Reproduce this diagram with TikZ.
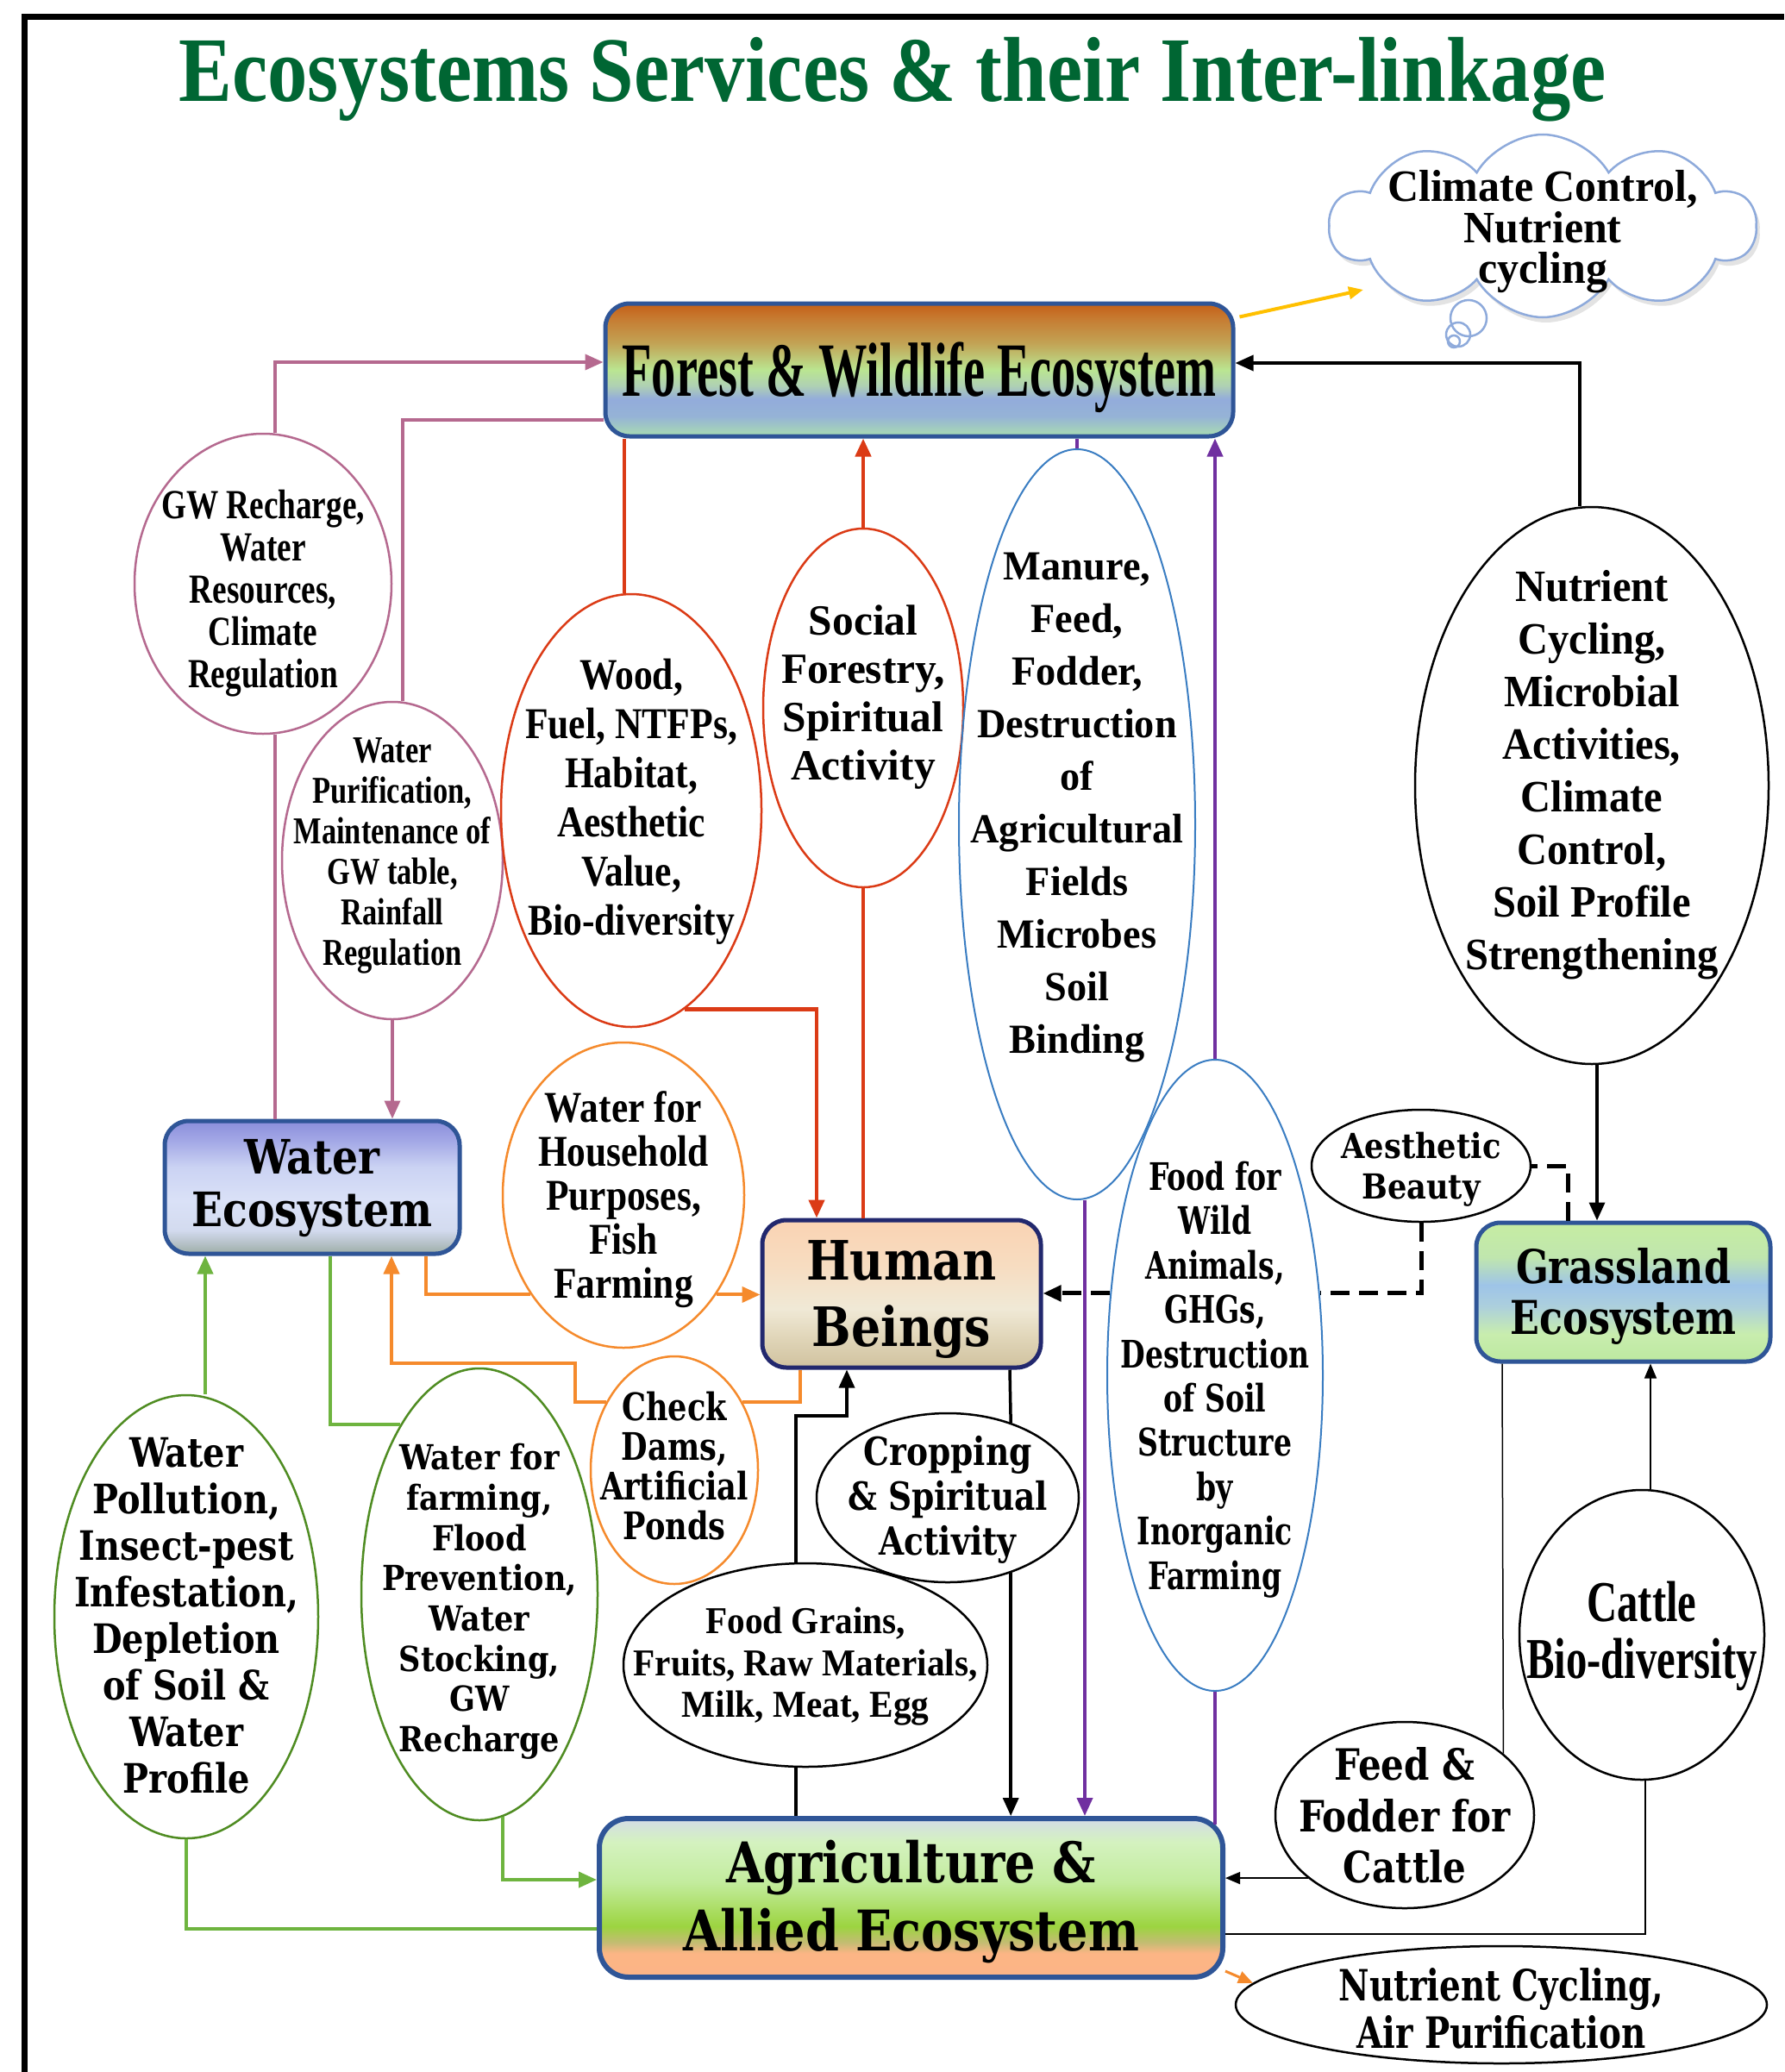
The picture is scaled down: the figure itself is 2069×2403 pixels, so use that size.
\documentclass[tikz,border=0pt]{standalone}
\usepackage{fontspec}
\usepackage{graphicx}
\usetikzlibrary{shapes.geometric,shapes.symbols,arrows.meta,shadows,calc}
\newfontfamily\tms{Liberation Serif}
\newfontfamily\dvs{DejaVu Serif}
\newcommand\TT[2]{\tms\bfseries\fontsize{#1}{#2}\selectfont}
\newcommand\DD[2]{\dvs\bfseries\fontsize{#1}{#2}\selectfont}
% #1 target width, #2 font, #3 raise (pt), #4 lines
\newcommand\fit[4]{%
  \setbox0=\vbox{#2\lineskiplimit=-\maxdimen\lineskip=0pt\let\\\cr
    \halign{\hfil##\hfil\cr#4\crcr}}%
  \pgfmathsetmacro\fitk{#1/\the\wd0}%
  \hbox to 0pt{\hss\raisebox{\dimexpr-\ht0/2+#3pt\relax}[0pt][0pt]{\scalebox{\fitk}[1]{\copy0}}\hss}}
\definecolor{titlegreen}{HTML}{006633}
\definecolor{mauve}{HTML}{B5698F}
\definecolor{redc}{HTML}{DB3B16}
\definecolor{orangec}{HTML}{F58A2C}
\definecolor{greenl}{HTML}{6EB43F}
\definecolor{greeno}{HTML}{4F8C22}
\definecolor{purplec}{HTML}{7030A0}
\definecolor{bluee}{HTML}{3A7DC2}
\definecolor{boxblue}{HTML}{2F5597}
\definecolor{navy}{HTML}{22286E}
\definecolor{cloudblue}{HTML}{8EAADB}
\definecolor{yellowc}{HTML}{FFC000}
% forest
\definecolor{fo1}{HTML}{C55F17}\definecolor{fo2}{HTML}{C67D33}\definecolor{fo3}{HTML}{C2A355}
\definecolor{fo4}{HTML}{BAE591}\definecolor{fo5}{HTML}{AFD0B4}\definecolor{fo6}{HTML}{93ACDB}
\definecolor{fo7}{HTML}{95B3D6}\definecolor{fo8}{HTML}{AADDB0}
\pgfdeclareverticalshading{forestshade}{100bp}{color(0bp)=(fo8); color(25bp)=(fo8); color(32.5bp)=(fo7); color(39bp)=(fo6); color(44bp)=(fo5); color(50bp)=(fo4); color(60bp)=(fo3); color(69bp)=(fo2); color(75bp)=(fo1); color(100bp)=(fo1)}
% water
\definecolor{wa1}{HTML}{8B8EDB}\definecolor{wa2}{HTML}{A3A8E6}\definecolor{wa3}{HTML}{CBD3F3}
\definecolor{wa4}{HTML}{DAE1F7}\definecolor{wa5}{HTML}{D3DBEF}\definecolor{wa6}{HTML}{B6C1C8}\definecolor{wa7}{HTML}{9DAEA6}
\pgfdeclareverticalshading{watershade}{100bp}{color(0bp)=(wa7); color(25bp)=(wa7); color(29bp)=(wa6); color(34bp)=(wa5); color(45bp)=(wa4); color(57.5bp)=(wa3); color(67.5bp)=(wa2); color(75bp)=(wa1); color(100bp)=(wa1)}
% human
\definecolor{hu1}{HTML}{FAD3B3}\definecolor{hu2}{HTML}{F7DCC0}\definecolor{hu3}{HTML}{F0E9D6}
\definecolor{hu4}{HTML}{E0D5B8}\definecolor{hu5}{HTML}{D0C29F}
\pgfdeclareverticalshading{humanshade}{100bp}{color(0bp)=(hu5); color(25bp)=(hu5); color(35bp)=(hu4); color(45bp)=(hu3); color(60bp)=(hu2); color(75bp)=(hu1); color(100bp)=(hu1)}
% agriculture
\definecolor{ag1}{HTML}{D4DCE7}\definecolor{ag2}{HTML}{D4F2BF}\definecolor{ag3}{HTML}{C3EC9E}
\definecolor{ag4}{HTML}{9CD440}\definecolor{ag5}{HTML}{C3BC72}\definecolor{ag6}{HTML}{FCB585}\definecolor{ag7}{HTML}{FCB486}
\pgfdeclareverticalshading{agrishade}{100bp}{color(0bp)=(ag7); color(25bp)=(ag7); color(32.5bp)=(ag6); color(36bp)=(ag5); color(41bp)=(ag4); color(55bp)=(ag3); color(67.5bp)=(ag2); color(75bp)=(ag1); color(100bp)=(ag1)}
% grassland
\definecolor{gr1}{HTML}{C6EDA2}\definecolor{gr2}{HTML}{C0E6AE}\definecolor{gr3}{HTML}{9EC4E8}
\definecolor{gr4}{HTML}{ACCFDD}\definecolor{gr5}{HTML}{C8EDAE}\definecolor{gr6}{HTML}{BDE9A0}
\pgfdeclareverticalshading{grassshade}{100bp}{color(0bp)=(gr6); color(25bp)=(gr6); color(35bp)=(gr5); color(45bp)=(gr4); color(52.5bp)=(gr3); color(62.5bp)=(gr2); color(75bp)=(gr1); color(100bp)=(gr1)}
\tikzset{
  ell/.style={ellipse, inner sep=0pt, line width=2.5pt},
  ebox/.style={rectangle, rounded corners=28pt, inner sep=0pt, line width=5pt, shade},
  arrowA/.style={-{Triangle[length=21pt,width=18pt]}},
  arrowB/.style={-{Triangle[length=17pt,width=14pt]}},
  mline/.style={draw=mauve, line width=3.5pt},
  rline/.style={draw=redc, line width=4.5pt},
  oline/.style={draw=orangec, line width=4pt},
  gline/.style={draw=greenl, line width=4pt},
  pline/.style={draw=purplec, line width=4pt},
  kline/.style={draw=black, line width=3.5pt},
  tline/.style={draw=black, line width=1.5pt},
  dline/.style={draw=black, line width=5pt, dash pattern=on 22pt off 11pt},
  yline/.style={draw=yellowc, line width=4pt},
  bubble/.style={draw=cloudblue, line width=2.5pt}
}
\begin{document}
\begin{tikzpicture}[x=1pt,y=-1pt]
\useasboundingbox (0,0) rectangle (2069,2403);
\fill[white] (0,0) rectangle (2069,2403);
% frame
\draw[line width=7pt] (28,2403) -- (28,19.5) -- (2069,19.5);
% title
\node (title) at (1035,80) {\fit{1655}{\color{titlegreen}\TT{107}{107}}{0}{Ecosystems Services \& their Inter-linkage}};
% cloud
\node[cloud, cloud puffs=10, cloud puff arc=120, cloud ignores aspect, draw=cloudblue, line width=2.5pt, fill=white,
      minimum width=494pt, minimum height=212pt, inner sep=0pt,
      drop shadow={opacity=0.22, shadow xshift=4pt, shadow yshift=-6pt}] (cloud) at (1789,262)
      {\fit{360}{\TT{52}{47.5}}{-1}{Climate Control,\\Nutrient\\cycling}};
\draw[bubble] (1703,369) circle [radius=21pt];
\draw[bubble] (1691,388) circle [radius=14pt];
\draw[bubble] (1686,396) circle [radius=7pt];
\coordinate (cloudin) at (1581,336);
% boxes
\node[ebox, shading=forestshade, draw=boxblue, minimum width=728pt, minimum height=154pt] (forest) at (1066,429)
  {\fit{689}{\TT{89}{89}}{1}{Forest \& Wildlife Ecosystem}};
\node[ebox, shading=watershade, draw=boxblue, minimum width=342pt, minimum height=154pt] (water) at (362,1377)
  {\fit{279}{\DD{55}{61}}{5}{Water\\Ecosystem}};
\node[ebox, shading=humanshade, draw=navy, minimum width=323pt, minimum height=171pt] (human) at (1045.5,1500.5)
  {\fit{221}{\DD{63}{77}}{0}{Human\\Beings}};
\node[ebox, shading=agrishade, draw=boxblue, line width=6pt, rounded corners=34pt, minimum width=723pt, minimum height=184pt] (agri) at (1056.5,2201)
  {\fit{529}{\DD{65}{79}}{3}{Agriculture \&\\Allied Ecosystem}};
\node[ebox, shading=grassshade, draw=boxblue, minimum width=341pt, minimum height=161pt] (grass) at (1882.5,1498.5)
  {\fit{262}{\DD{54}{59}}{1}{Grassland\\Ecosystem}};
% ellipses
\node[ell, draw=mauve, minimum width=298pt, minimum height=348pt] (gw) at (305,677)
  {\fit{236}{\TT{48}{49}}{-6}{GW Recharge,\\Water\\Resources,\\Climate\\Regulation}};
\node[ell, draw=mauve, minimum width=256pt, minimum height=368pt] (wp) at (455,998)
  {\fit{229}{\TT{44}{47}}{10}{Water\\Purification,\\Maintenance of\\GW table,\\Rainfall\\Regulation}};
\node[ell, draw=redc, minimum width=302pt, minimum height=502pt] (wood) at (732,940)
  {\fit{246}{\TT{51}{57}}{16}{Wood,\\Fuel, NTFPs,\\Habitat,\\Aesthetic\\Value,\\Bio-diversity}};
\node[ell, draw=redc, minimum width=232pt, minimum height=416pt] (social) at (1001,821)
  {\fit{190}{\TT{50}{56}}{18}{Social\\Forestry,\\Spiritual\\Activity}};
\node[ell, draw=bluee, line width=2pt, minimum width=274pt, minimum height=870pt] (manure) at (1249,956)
  {\fit{247}{\TT{48}{61}}{25}{Manure,\\Feed,\\Fodder,\\Destruction\\of\\Agricultural\\Fields\\Microbes\\Soil\\Binding}};
\node[ell, draw=black, minimum width=410pt, minimum height=646pt] (nut) at (1846,911)
  {\fit{293}{\TT{52}{61}}{18}{Nutrient\\Cycling,\\Microbial\\Activities,\\Climate\\Control,\\Soil Profile\\Strengthening}};
\node[ell, draw=orangec, minimum width=280pt, minimum height=354pt] (hh) at (723,1386)
  {\fit{198}{\TT{51}{51}}{0}{Water for\\Household\\Purposes,\\Fish\\Farming}};
\node[ell, draw=orangec, minimum width=194pt, minimum height=264pt] (cd) at (782,1705)
  {\fit{172}{\DD{44}{46}}{5}{Check\\Dams,\\Artificial\\Ponds}};
\node[ell, draw=greeno, minimum width=306pt, minimum height=514pt] (wpol) at (216,1875)
  {\fit{260}{\DD{47}{54}}{2}{Water\\Pollution,\\Insect-pest\\Infestation,\\Depletion\\of Soil \&\\Water\\Profile}};
\node[ell, draw=greeno, minimum width=274pt, minimum height=524pt] (wf) at (556,1849)
  {\fit{226}{\DD{40}{46.7}}{-4}{Water for\\farming,\\Flood\\Prevention,\\Water\\Stocking,\\GW\\Recharge}};
\node[ell, draw=black, minimum width=422pt, minimum height=236pt] (fg) at (934,1931)
  {\fit{399}{\TT{44}{48.5}}{3}{Food Grains,\\Fruits, Raw Materials,\\Milk, Meat, Egg}};
\node[ell, draw=black, minimum width=304pt, minimum height=196pt] (cr) at (1099,1737)
  {\fit{232}{\DD{45}{52}}{3}{Cropping\\\& Spiritual\\Activity}};
\node[ell, draw=bluee, line width=2pt, minimum width=250pt, minimum height=732pt] (food) at (1409,1595)
  {\fit{219}{\DD{44}{51.4}}{0}{Food for\\Wild\\Animals,\\GHGs,\\Destruction\\of Soil\\Structure\\by\\Inorganic\\Farming}};
\node[ell, draw=black, minimum width=254pt, minimum height=130pt] (ae) at (1648,1352)
  {\fit{185}{\DD{40}{47}}{0}{Aesthetic\\Beauty}};
\node[ell, draw=black, minimum width=284pt, minimum height=336pt] (cat) at (1904,1896)
  {\fit{268}{\TT{67}{66}}{6}{Cattle\\Bio-diversity}};
\node[ell, draw=black, minimum width=300pt, minimum height=216pt] (ff) at (1629,2105)
  {\fit{246}{\DD{50}{59.5}}{0}{Feed \&\\Fodder for\\Cattle}};
\node[ell, draw=black, minimum width=616pt, minimum height=136pt] (nca) at (1741,2325)
  {\fit{377}{\DD{50}{55}}{-4}{Nutrient Cycling,\\Air Purification}};
% connectors: mauve
\draw[mline,arrowA] ([xshift=14pt]gw.north) |- ([yshift=9pt]forest.west);
\draw[mline] ([yshift=-58pt]forest.west) -| ([xshift=12pt]wp.north);
\draw[mline,arrowA] (wp.south) -- (wp.south |- water.north);
\draw[mline] ([xshift=14pt]gw.south) -- ([xshift=14pt]gw.south |- water.north);
% red
\draw[rline] ([xshift=-8pt]wood.north) -- ([xshift=-8pt]wood.north |- forest.south);
\draw[rline,arrowA] (wood.-75) -| ([xshift=-98.5pt]human.north);
\draw[rline] (social.south) -- (social.south |- human.north);
\draw[rline,arrowA] (social.north) -- (social.north |- forest.south);
% purple
\draw[pline] (manure.north) -- (manure.north |- forest.south);
\draw[pline,arrowA] ([xshift=9pt]manure.south) -- ([xshift=9pt]manure.south |- agri.north);
\draw[pline,arrowA] (food.north) -- (food.north |- forest.south);
\draw[pline] (food.south) -- ([yshift=-10pt]food.south |- agri.north);
% black
\draw[kline,arrowA] ([xshift=-14pt]nut.north) |- ([yshift=8pt]forest.east);
\draw[kline,arrowA] ([xshift=6pt]nut.south) -- ([xshift=6pt]nut.south |- grass.north);
\draw[kline] ([xshift=-11pt]fg.south) -- ([xshift=-11pt]fg.south |- agri.north);
\draw[kline,arrowA] ([xshift=-11pt]fg.north) -- ++(0,-170) -| ([xshift=-63.5pt]human.south);
\draw[kline] ([xshift=125.5pt]human.south) -- (cr.50);
\draw[kline,arrowA] (cr.-50) -- (cr.-50 |- agri.north);
% orange
\draw[oline] ([xshift=-42pt]water.south east) |- (hh.-133);
\draw[oline,arrowA] (hh.-47) -- (hh.-47 -| human.west);
\draw[oline] ([xshift=-117.5pt]human.south) |- (cd.45);
\draw[oline,arrowA] (cd.135) -- ++(-36,0) -- ++(0,-45) -| ([xshift=92pt]water.south);
\draw[orangec, line width=3pt, arrowB] ([yshift=10pt]agri.south east) -- (nca.175);
% green
\draw[gline] ([yshift=-36pt]agri.west) -| (wpol.south);
\draw[gline,arrowA] ([xshift=22pt]wpol.north) -- ([xshift=22pt]wpol.north |- water.south);
\draw[gline] ([xshift=21pt]water.south) |- (wf.115);
\draw[gline,arrowA] (wf.-84) |- ([yshift=21pt]agri.west);
% thin black
\draw[tline,arrowB] ([xshift=10pt]cat.north) -- ([xshift=10pt]cat.north |- grass.south);
\draw[tline] ([yshift=-42pt]agri.east) -| ([xshift=4pt]cat.south);
\draw[tline] ([xshift=-140.5pt]grass.south) -- (ff.32);
\draw[tline,arrowB] (ff.-147) -- (ff.-147 -| agri.east);
% dashed
\draw[dline] ([xshift=-64.5pt]grass.north) |- (ae.east);
\draw[dline] (ae.south) |- (food.38);
\draw[dline,arrowA] (food.142) -- (food.142 -| human.east);
% yellow
\draw[yline,arrowB] ([shift={(5pt,-18pt)}]forest.north east) -- (cloudin);
\end{tikzpicture}
\end{document}
